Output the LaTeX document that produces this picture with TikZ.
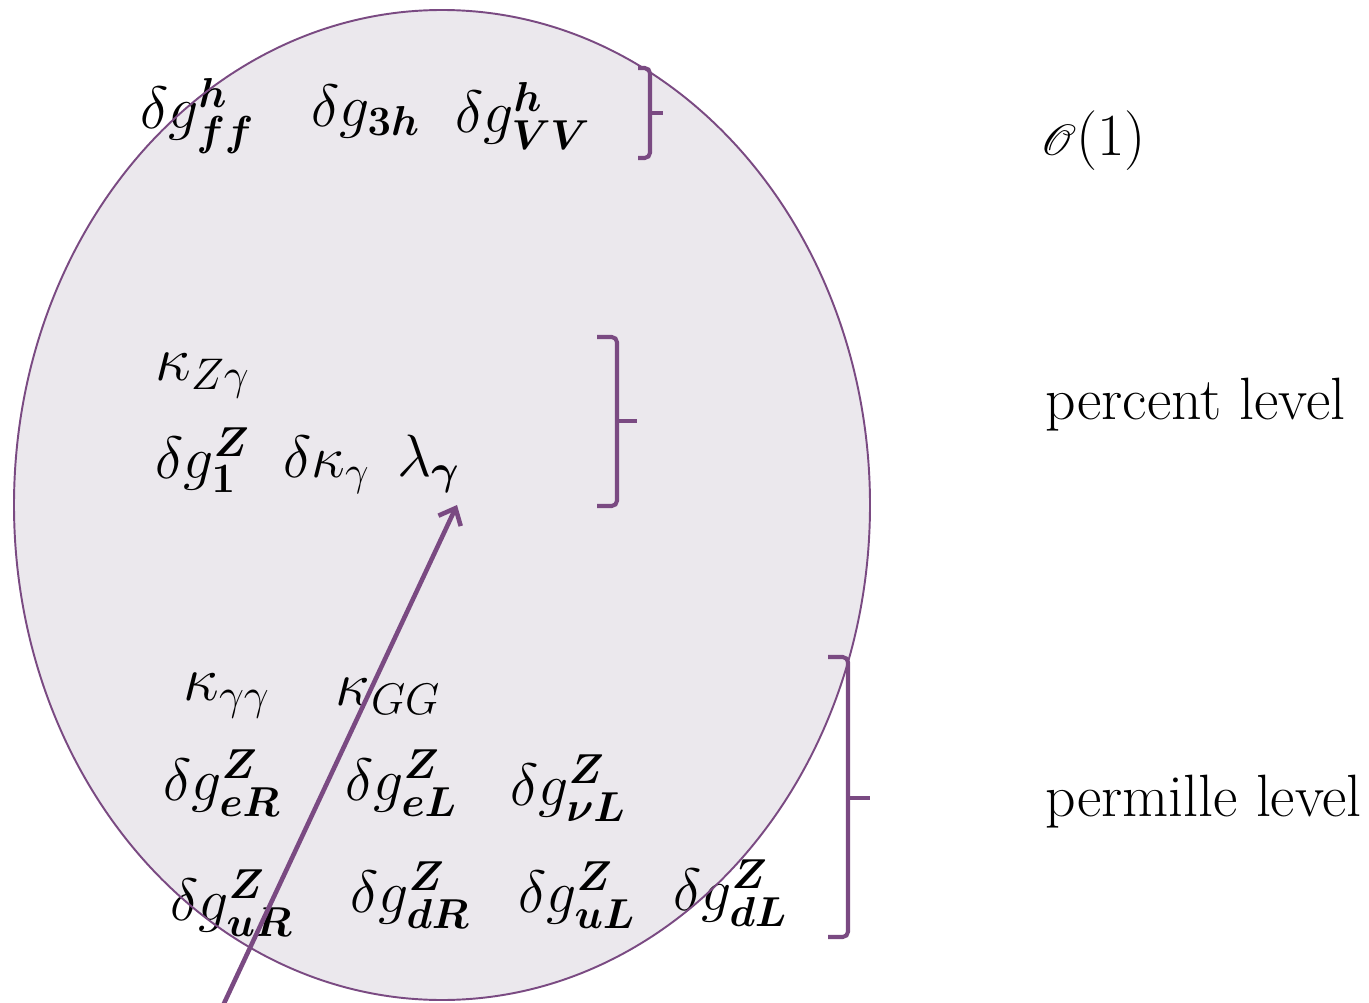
\RequirePackage{fix-cm}
\documentclass[tikz,border=0pt]{standalone}
\usepackage{amsmath,amssymb,mathrsfs}
\usetikzlibrary{arrows.meta}
\definecolor{plum}{RGB}{122,74,130}
\definecolor{haze}{RGB}{235,232,237}
\newcommand{\bs}[1]{\boldsymbol{#1}}

\begin{document}
\begin{tikzpicture}[x=0.02cm, y=-0.02cm,
  coup/.style={anchor=base west, inner sep=0pt, font=\fontsize{34}{40}\selectfont},
  coupk/.style={coup, font=\fontsize{36}{42}\selectfont},
  lvl/.style={anchor=base west, inner sep=0pt, font=\fontsize{34}{40}\selectfont},
  brk/.style={draw=plum, line width=2.3pt, rounded corners=3pt},
  arr/.style={-{Straight Barb[length=8pt,width=14pt]}, draw=plum, line width=2.6pt}
]
  \useasboundingbox (0,0) rectangle (1369,1003);
  \clip (0,0) rectangle (1369,1003);

  % the region of couplings
  \fill[haze] (442,505) ellipse [x radius=428, y radius=495];

  % O(1)
  \node[coup] (gff) at (140,129) {$\delta g^{\bs{h}}_{\bs{ff}}$};
  \node[coup] (g3h) at (311,127) {$\delta g_{\bs{3h}}$};
  \node[coup] (gvv) at (455,133) {$\delta g^{\bs{h}}_{\bs{VV}}$};

  % percent level
  \node[coupk] (kzg) at (155,380) {$\kappa_{Z\gamma}$};
  \node[coup] (g1z) at (155,478) {$\delta g^{\bs{Z}}_{\bs{1}}$};
  \node[coup] (dkg) at (283,477) {$\delta\kappa_{\gamma}$};
  \node[coup] (lamg) at (397,476) {$\lambda_{\bs{\gamma}}$};

  % permille level
  \node[coupk] (kgg) at (183,700) {$\kappa_{\gamma\gamma}$};
  \node[coupk] (kGG) at (335,705) {$\kappa_{GG}$};
  \node[coup] (ger) at (163,800) {$\delta g^{\bs{Z}}_{\bs{eR}}$};
  \node[coup] (gel) at (345,800) {$\delta g^{\bs{Z}}_{\bs{eL}}$};
  \node[coup] (gnl) at (510,805) {$\delta g^{\bs{Z}}_{\bs{\nu L}}$};
  \node[coup] (gur) at (170,920) {$\delta g^{\bs{Z}}_{\bs{uR}}$};
  \node[coup] (gdr) at (350,912) {$\delta g^{\bs{Z}}_{\bs{dR}}$};
  \node[coup] (gul) at (518,912) {$\delta g^{\bs{Z}}_{\bs{uL}}$};
  \node[coup] (gdl) at (673,910) {$\delta g^{\bs{Z}}_{\bs{dL}}$};

  \draw[plum, line width=1.1pt] (442,505) ellipse [x radius=428, y radius=495];

  % brackets
  \draw[brk] (638,68) -- (650,68) -- (650,158) -- (638,158);
  \draw[brk] (650,113) -- (663,113);
  \draw[brk] (597,337) -- (617,337) -- (617,506) -- (597,506);
  \draw[brk] (617,421) -- (637,421);
  \draw[brk] (828,657) -- (848,657) -- (848,937) -- (828,937);
  \draw[brk] (848,798) -- (870,798);

  % levels
  \node[lvl] (o1) at (1040,156) {$\mathscr{O}$(1)};
  \node[lvl] (pct) at (1045,419) {percent level};
  \node[lvl] (pml) at (1045,816) {permille level};

  \coordinate (tail) at (220,1012);
  \coordinate (tip) at (457,505);
  \draw[arr] (tail) -- (tip);
\end{tikzpicture}
\end{document}
